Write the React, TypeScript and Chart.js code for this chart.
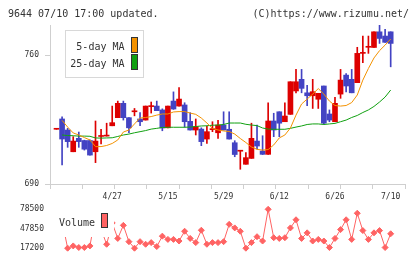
import React, { useEffect, useRef } from 'react';
import { Chart, registerables } from 'chart.js';

Chart.register(...registerables);

// ---- data ----
const headerLeft = '9644 07/10 17:00 updated.';
const headerRight = '(C)https://www.rizumu.net/';

const dateLabels = ['4/27', '5/15', '5/29', '6/12', '6/26', '7/10'];
const dateIndex = [10, 20, 30, 40, 50, 60];

const priceTicks = [690, 760];
const volumeTicks = [17200, 47850, 78500];

const opens = [
  719.7, 725.3, 719.3, 707.5, 714.8, 713.6, 713.6, 707.5, 715.8, 716.0,
  721.6, 726.0, 733.8, 726.0, 729.2, 725.3, 724.7, 732.0, 732.3, 730.2,
  720.5, 735.0, 732.3, 732.9, 724.0, 719.3, 719.8, 714.4, 719.5, 717.8,
  722.0, 719.7, 712.4, 707.8, 700.7, 703.9, 713.3, 707.9, 706.1, 724.2,
  729.2, 723.8, 727.8, 740.5, 746.8, 739.5, 737.9, 736.0, 743.2, 728.0,
  723.8, 738.8, 749.1, 746.8, 745.0, 760.9, 764.2, 764.1, 772.6, 770.3,
  772.6,
];
const highs = [
  719.7, 726.5, 720.2, 715.7, 718.2, 713.8, 714.0, 724.2, 719.7, 723.0,
  732.3, 735.0, 735.0, 726.0, 731.0, 728.7, 732.3, 734.5, 735.0, 730.8,
  732.3, 740.0, 742.3, 734.1, 728.7, 725.3, 720.5, 721.5, 723.8, 724.5,
  729.2, 729.2, 713.5, 708.0, 707.0, 723.0, 722.0, 716.2, 734.1, 728.4,
  729.2, 734.1, 745.5, 752.2, 752.2, 743.5, 746.8, 739.2, 743.2, 730.2,
  737.0, 752.2, 750.0, 752.2, 764.2, 770.3, 770.3, 772.6, 776.3, 774.0,
  772.6,
];
const lows = [
  719.7, 700.3, 709.9, 707.5, 709.9, 708.4, 705.7, 701.6, 711.7, 716.0,
  721.6, 726.0, 724.7, 717.8, 727.0, 721.6, 724.7, 728.5, 729.8, 718.9,
  720.5, 730.5, 732.3, 720.8, 719.3, 716.6, 710.8, 712.0, 718.4, 714.8,
  719.3, 714.4, 704.8, 698.0, 700.7, 703.9, 709.0, 706.0, 706.1, 715.7,
  715.7, 723.8, 727.8, 739.5, 739.5, 732.5, 731.0, 731.0, 722.5, 723.8,
  723.8, 736.5, 740.0, 739.5, 745.0, 755.8, 760.9, 764.1, 766.3, 766.9,
  753.6,
];
const closes = [
  719.7, 714.4, 713.0, 713.3, 713.0, 708.9, 705.7, 713.3, 716.2, 716.0,
  723.3, 733.8, 726.0, 720.5, 729.2, 723.8, 732.3, 732.0, 729.8, 720.4,
  732.3, 730.7, 736.1, 723.8, 719.3, 721.1, 713.0, 718.4, 719.5, 722.0,
  719.3, 714.4, 706.0, 707.8, 704.3, 714.8, 710.6, 706.1, 724.2, 719.3,
  723.0, 726.9, 745.5, 745.5, 741.9, 737.9, 740.1, 739.2, 723.0, 724.7,
  733.8, 746.4, 743.2, 739.5, 760.9, 760.9, 764.2, 772.6, 769.0, 766.9,
  766.3,
];
const ma5 = [
  null, 724.5, 720.9, 717.7, 716.6, 715.2, 713.9, 710.3, 710.3, 710.9,
  712.0, 713.9, 718.2, 719.3, 722.6, 725.8, 726.1, 726.6, 727.4, 728.0,
  728.0, 729.1, 729.3, 729.3, 728.5, 727.8, 725.8, 723.1, 720.1, 719.3,
  718.8, 718.5, 717.1, 714.7, 712.5, 710.1, 708.8, 708.4, 708.7, 711.2,
  715.0, 716.6, 720.4, 727.4, 733.4, 736.1, 738.8, 741.8, 738.8, 735.0,
  732.6, 732.3, 732.6, 734.2, 738.3, 746.4, 752.7, 758.4, 762.4, 765.4,
  768.7,
];
const ma25 = [
  null, 716.6, 716.3, 716.2, 716.0, 716.0, 715.9, 715.0, 714.9, 715.0,
  715.1, 715.8, 716.6, 717.1, 717.8, 718.4, 719.0, 719.8, 720.2, 720.7,
  720.8, 720.8, 720.8, 720.8, 720.9, 721.2, 721.5, 721.6, 721.9, 722.0,
  722.3, 723.1, 723.1, 723.1, 722.4, 722.0, 721.7, 720.4, 719.8, 719.7,
  719.7, 719.7, 720.2, 720.9, 721.5, 722.3, 722.6, 722.6, 722.3, 722.6,
  722.9, 723.8, 724.7, 726.1, 727.2, 728.8, 730.2, 732.1, 734.5, 737.2,
  741.0,
];
const volumes = [
  46000, 60000, 17200, 20800, 18300, 18300, 20800, 69000, 47000, 23400,
  57000, 32600, 53200, 27500, 17200, 27500, 23400, 26000, 19800, 36200,
  31100, 31100, 28500, 43900, 32600, 26000, 45500, 23400, 26000, 26000,
  27500, 54800, 49200, 43900, 17200, 26000, 35300, 28500, 78500, 33700,
  32600, 33700, 49200, 62000, 32600, 41400, 28500, 31100, 28500, 18300,
  32600, 46500, 62000, 31100, 72300, 45000, 31100, 41400, 45000, 18300,
  39900,
];

// ---- styles ----
const RED = '#dd0000';
const BLUE = '#4343c3';
const ORANGE = '#f39200';
const GREEN = '#10a010';
const VOL = '#ff6363';
const GRID = '#cfcfcf';
const TEXT = '#333333';
const FONT = '"DejaVu Sans Mono", monospace';

const X_MIN = -1.17;
const X_MAX = 62.57;
const GRID_TICKS = 11;

const idx = opens.map((_, i) => i);
const upColor = (i: number) => (closes[i] >= opens[i] ? RED : BLUE);

const mainOverlay = {
  id: 'mainOverlay',
  afterDraw(chart: any) {
    const ctx = chart.ctx as CanvasRenderingContext2D;
    ctx.save();
    ctx.font = `10px ${FONT}`;
    ctx.fillStyle = TEXT;
    ctx.textBaseline = 'alphabetic';
    ctx.textAlign = 'left';
    ctx.fillText(headerLeft, 8, 16.5);
    ctx.textAlign = 'right';
    ctx.fillText(headerRight, 409, 16.5);

    // legend box
    ctx.fillStyle = '#ffffff';
    ctx.fillRect(65.5, 30.5, 78, 47);
    ctx.strokeStyle = '#d8d8d8';
    ctx.lineWidth = 1;
    ctx.strokeRect(65.5, 30.5, 78, 47);
    ctx.fillStyle = TEXT;
    ctx.textAlign = 'right';
    ctx.fillText('5-day MA', 124.5, 49.5);
    ctx.fillText('25-day MA', 124.5, 66.5);
    ctx.fillStyle = ORANGE;
    ctx.fillRect(131.5, 37.5, 6, 15);
    ctx.fillStyle = GREEN;
    ctx.fillRect(131.5, 54.5, 6, 15);
    ctx.strokeStyle = '#333333';
    ctx.strokeRect(131.5, 37.5, 6, 15);
    ctx.strokeRect(131.5, 54.5, 6, 15);
    ctx.restore();
  },
};

const volOverlay = {
  id: 'volOverlay',
  afterDatasetsDraw(chart: any) {
    const ctx = chart.ctx as CanvasRenderingContext2D;
    ctx.save();
    ctx.fillStyle = '#ffffff';
    ctx.fillRect(52, 204, 62, 33);
    ctx.font = `10px ${FONT}`;
    ctx.fillStyle = TEXT;
    ctx.textAlign = 'left';
    ctx.textBaseline = 'alphabetic';
    ctx.fillText('Volume', 59, 226);
    ctx.fillStyle = VOL;
    ctx.fillRect(101.5, 213.5, 6, 14);
    ctx.strokeStyle = '#333333';
    ctx.lineWidth = 1;
    ctx.strokeRect(101.5, 213.5, 6, 14);
    ctx.restore();
  },
};

function gridTickValues() {
  const out: number[] = [];
  for (let k = 0; k <= GRID_TICKS; k++) out.push(X_MIN + ((X_MAX - X_MIN) * k) / GRID_TICKS);
  return out;
}

export default function App() {
  const mainRef = useRef<HTMLCanvasElement>(null);
  const volRef = useRef<HTMLCanvasElement>(null);

  useEffect(() => {
    const gridVals = gridTickValues();
    const main = new Chart(mainRef.current as HTMLCanvasElement, {
      type: 'bar',
      data: {
        datasets: [
          {
            type: 'line',
            label: '5-day MA',
            data: idx.map((i) => ({ x: i, y: ma5[i] })) as any,
            borderColor: ORANGE,
            borderWidth: 1,
            pointRadius: 0,
            order: 1,
            clip: false,
          } as any,
          {
            type: 'line',
            label: '25-day MA',
            data: idx.map((i) => ({ x: i, y: ma25[i] })) as any,
            borderColor: GREEN,
            borderWidth: 1,
            pointRadius: 0,
            order: 1,
            clip: false,
          } as any,
          {
            type: 'bar',
            label: 'body',
            data: idx.map((i) => ({ x: i, y: [opens[i], closes[i]] })) as any,
            backgroundColor: idx.map(upColor),
            barThickness: 5,
            minBarLength: 1,
            grouped: false,
            order: 2,
          } as any,
          {
            type: 'bar',
            label: 'wick',
            data: idx.map((i) => ({ x: i, y: [lows[i], highs[i]] })) as any,
            backgroundColor: idx.map(upColor),
            barThickness: 1,
            grouped: false,
            order: 3,
          } as any,
        ],
      },
      options: {
        animation: false,
        responsive: false,
        devicePixelRatio: 1,
        layout: { padding: { left: 0, right: 15, top: 25, bottom: 55 } },
        plugins: { legend: { display: false }, tooltip: { enabled: false } },
        scales: {
          x: {
            type: 'linear',
            min: X_MIN,
            max: X_MAX,
            offset: false,
            afterBuildTicks: (s: any) => {
              const vals = [...gridVals, ...dateIndex].sort((a, b) => a - b);
              s.ticks = vals.map((v) => ({ value: v }));
            },
            afterFit: (s: any) => {
              s.height = 20;
            },
            ticks: {
              autoSkip: false,
              maxRotation: 0,
              padding: 3,
              font: { family: FONT, size: 8 },
              color: TEXT,
              callback: (v: any) => {
                const k = dateIndex.indexOf(v);
                return k >= 0 ? dateLabels[k] : '';
              },
            },
            grid: {
              drawOnChartArea: false,
              tickLength: 5,
              offset: false,
              color: (c: any) =>
                c.tick && dateIndex.includes(c.tick.value) ? 'rgba(0,0,0,0)' : GRID,
            },
            border: { display: true, color: GRID },
          },
          y: {
            type: 'linear',
            min: 690,
            max: 776.3,
            afterBuildTicks: (s: any) => {
              s.ticks = priceTicks.map((v) => ({ value: v }));
            },
            afterFit: (s: any) => {
              s.width = 50;
            },
            ticks: {
              padding: 6,
              font: { family: FONT, size: 8 },
              color: TEXT,
              callback: (v: any) => String(v),
            },
            grid: { drawOnChartArea: false, tickLength: 5, color: GRID },
            border: { display: true, color: GRID },
          },
        },
      } as any,
      plugins: [mainOverlay],
    });

    const vol = new Chart(volRef.current as HTMLCanvasElement, {
      type: 'line',
      data: {
        datasets: [
          {
            label: 'Volume',
            data: idx.map((i) => ({ x: i, y: volumes[i] })) as any,
            borderColor: VOL,
            borderWidth: 1,
            pointStyle: 'rectRot',
            pointRadius: 3,
            pointBorderWidth: 1,
            pointBackgroundColor: VOL,
            pointBorderColor: VOL,
            clip: false,
          } as any,
        ],
      },
      options: {
        animation: false,
        responsive: false,
        devicePixelRatio: 1,
        layout: { padding: { left: 0, right: 15, top: 209.3, bottom: 10 } },
        plugins: { legend: { display: false }, tooltip: { enabled: false } },
        scales: {
          x: { type: 'linear', min: X_MIN, max: X_MAX, display: false },
          y: {
            type: 'linear',
            min: 17200,
            max: 78500,
            afterBuildTicks: (s: any) => {
              s.ticks = volumeTicks.map((v) => ({ value: v }));
            },
            afterFit: (s: any) => {
              s.width = 50;
            },
            ticks: {
              padding: 6,
              font: { family: FONT, size: 8 },
              color: TEXT,
              callback: (v: any) => String(v),
            },
            grid: { display: false, drawTicks: false },
            border: { display: false },
          },
        },
      } as any,
      plugins: [volOverlay],
    });

    return () => {
      main.destroy();
      vol.destroy();
    };
  }, []);

  return (
    <div style={{ position: 'absolute', left: 0, top: 0, width: 420, height: 259, background: '#ffffff' }}>
      <canvas ref={mainRef} width={420} height={259} style={{ position: 'absolute', left: 0, top: 0 }} />
      <canvas ref={volRef} width={420} height={259} style={{ position: 'absolute', left: 0, top: 0 }} />
    </div>
  );
}
